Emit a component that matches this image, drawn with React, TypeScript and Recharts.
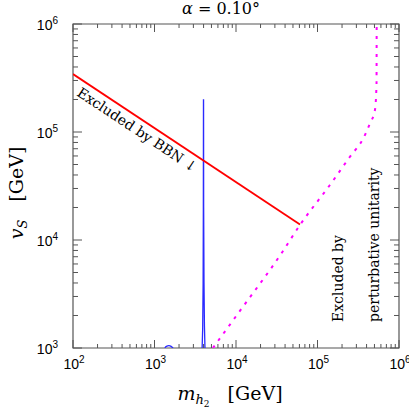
import React from 'react';
import { ComposedChart, Line, XAxis, YAxis, ReferenceArea } from 'recharts';

// ---- data ----
const xMajorTicks = [100, 1000, 10000, 100000, 1000000];
const yMajorTicks = [1000, 10000, 100000, 1000000];
const minorDigits = [2, 3, 4, 5, 6, 7, 8, 9];

const bbnLine = [
  { x: 100, y: 344000 },
  { x: 61000, y: 13900 },
];

const resonanceSpike = [
  { x: 3840, y: 1000 },
  { x: 3900, y: 1500 },
  { x: 3950, y: 4000 },
  { x: 3975, y: 20000 },
  { x: 3990, y: 198000 },
  { x: 3998, y: 198000 },
  { x: 4010, y: 20000 },
  { x: 4050, y: 4000 },
  { x: 4100, y: 1600 },
  { x: 4160, y: 1000 },
];

const smallBump = [
  { x: 1340, y: 1000 },
  { x: 1400, y: 1035 },
  { x: 1500, y: 1050 },
  { x: 1600, y: 1035 },
  { x: 1690, y: 1000 },
];

const unitarityLine = [
  { x: 5200, y: 1000 },
  { x: 11000, y: 2170 },
  { x: 36400, y: 7590 },
  { x: 61000, y: 13800 },
  { x: 142000, y: 32300 },
  { x: 250000, y: 59000 },
  { x: 365000, y: 87500 },
  { x: 440000, y: 120000 },
  { x: 507000, y: 160000 },
  { x: 530000, y: 280000 },
  { x: 532000, y: 1000000 },
];

// ---- layout ----
const W = 409;
const H = 410;
const LEFT = 73;
const RIGHT = 399;
const TOP = 24;
const BOTTOM = 348;
const FRAME = '#555';
const SANS = '"Liberation Sans", Arial, sans-serif';
const SERIF = '"DejaVu Serif", "Liberation Serif", serif';

const buildTicks = (majors: number[]) => {
  const t: number[] = [];
  majors.forEach((m, i) => {
    t.push(m);
    if (i < majors.length - 1) minorDigits.forEach((d) => t.push(m * d));
  });
  return t;
};
const xTicks = buildTicks(xMajorTicks);
const yTicks = buildTicks(yMajorTicks);
const isMajor = (v: number) => Math.abs(Math.log10(v) - Math.round(Math.log10(v))) < 1e-9;

const XTick = (props: any) => {
  const { x, payload } = props;
  const v = payload.value;
  const major = isMajor(v);
  const len = major ? 8 : 4;
  return (
    <g>
      <line x1={x} x2={x} y1={BOTTOM} y2={BOTTOM - len} stroke={FRAME} strokeWidth={1} />
      <line x1={x} x2={x} y1={TOP} y2={TOP + len} stroke={FRAME} strokeWidth={1} />
      {major && (
        <text x={x + 1} y={369} textAnchor="middle" fontFamily={SANS} fontSize={14} fill="#000">
          10
          <tspan dy={-6} fontSize={10}>
            {Math.round(Math.log10(v))}
          </tspan>
        </text>
      )}
    </g>
  );
};

const YTick = (props: any) => {
  const { y, payload } = props;
  const v = payload.value;
  const major = isMajor(v);
  const len = major ? 9 : 5;
  return (
    <g>
      <line x1={LEFT} x2={LEFT + len} y1={y} y2={y} stroke={FRAME} strokeWidth={1} />
      <line x1={RIGHT} x2={RIGHT - len} y1={y} y2={y} stroke={FRAME} strokeWidth={1} />
      {major && (
        <text x={58} y={y + 6} textAnchor="end" fontFamily={SANS} fontSize={14} fill="#000">
          10
          <tspan dy={-6} fontSize={10}>
            {Math.round(Math.log10(v))}
          </tspan>
        </text>
      )}
    </g>
  );
};

export default function App() {
  return (
    <div style={{ position: 'absolute', left: 0, top: 0, width: W, height: H, background: '#fff' }}>
      <ComposedChart
        width={W}
        height={H}
        margin={{ left: LEFT - 60, right: W - RIGHT, top: TOP, bottom: H - BOTTOM - 30 }}
      >
        <XAxis
          dataKey="x"
          type="number"
          scale="log"
          domain={[100, 1000000]}
          ticks={xTicks}
          interval={0}
          tick={<XTick />}
          tickLine={false}
          axisLine={false}
          height={30}
          allowDataOverflow
        />
        <YAxis
          dataKey="y"
          type="number"
          scale="log"
          domain={[1000, 1000000]}
          ticks={yTicks}
          interval={0}
          tick={<YTick />}
          tickLine={false}
          axisLine={false}
          width={60}
          allowDataOverflow
        />
        <ReferenceArea x1={100} x2={1000000} y1={1000} y2={1000000} fill="none" stroke={FRAME} strokeWidth={1.2} ifOverflow="visible" />
        <Line data={smallBump} dataKey="y" stroke="#2a2aff" strokeWidth={1.3} dot={false} isAnimationActive={false} type="monotone" />
        <Line data={resonanceSpike} dataKey="y" stroke="#2a2aff" strokeWidth={1.3} dot={false} isAnimationActive={false} type="linear" />
        <Line data={bbnLine} dataKey="y" stroke="#ff0000" strokeWidth={1.8} dot={false} isAnimationActive={false} type="linear" />
        <Line data={unitarityLine} dataKey="y" stroke="#ff00ff" strokeWidth={2} strokeDasharray="3 6" dot={false} isAnimationActive={false} type="monotone" />
      </ComposedChart>
      <svg width={W} height={H} style={{ position: 'absolute', left: 0, top: 0, pointerEvents: 'none' }}>
        <text x={221} y={14} textAnchor="middle" fontFamily={SERIF} fontSize={16} fill="#000">
          <tspan fontStyle="italic">α</tspan> = 0.10°
        </text>
        <text x={230} y={400} textAnchor="middle" fontFamily={SERIF} fontSize={19} fill="#000">
          <tspan fontStyle="italic">m</tspan>
          <tspan fontStyle="italic" fontSize={13} dy={4}>h</tspan>
          <tspan fontSize={9} dy={3}>2</tspan>
          <tspan dy={-7} dx={12}> [GeV]</tspan>
        </text>
        <text x={0} y={0} transform="translate(23,193) rotate(-90)" textAnchor="middle" fontFamily={SERIF} fontSize={19} fill="#000">
          <tspan fontStyle="italic">v</tspan>
          <tspan fontStyle="italic" fontSize={13} dy={4}>S</tspan>
          <tspan dy={-4} dx={12}> [GeV]</tspan>
        </text>
        <text x={0} y={0} transform="translate(76,95) rotate(33.6)" fontFamily={SERIF} fontSize={14} fill="#000">
          Excluded by BBN ↓
        </text>
        <text x={0} y={0} transform="translate(343,322) rotate(-90)" fontFamily={SERIF} fontSize={14} fill="#000">
          Excluded by
        </text>
        <text x={0} y={0} transform="translate(379,322) rotate(-90)" fontFamily={SERIF} fontSize={14} fill="#000">
          perturbative unitarity
        </text>
      </svg>
    </div>
  );
}
